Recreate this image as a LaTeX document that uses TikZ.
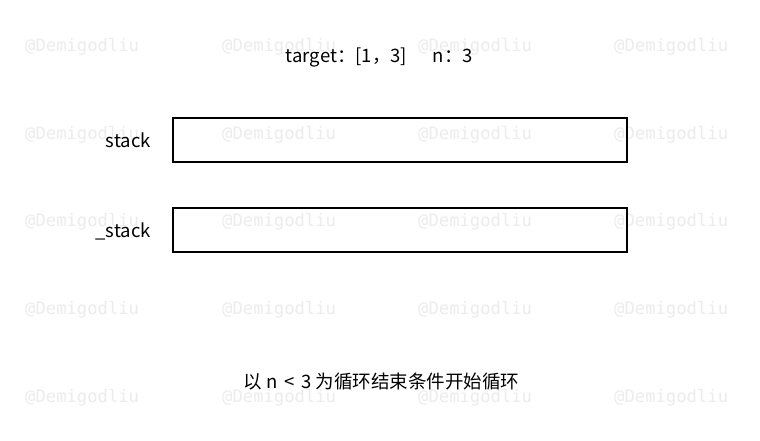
\documentclass[tikz,border=0pt]{standalone}
\usepackage{fontspec}
\setmainfont{Noto Sans CJK SC}
\newfontfamily\wmfont{DejaVu Sans Mono}
\definecolor{wmgray}{HTML}{ECECEC}
\begin{document}
\begin{tikzpicture}[x=1pt,y=-1pt,
  wm/.style={anchor=base west, inner sep=0pt, text=wmgray, font=\wmfont\fontsize{17.2}{19}\selectfont},
  lbl/.style={inner sep=0pt, font=\fontsize{18.5}{22}\selectfont},
  stackbox/.style={draw=black, line width=2pt, minimum width=454pt, minimum height=44pt, inner sep=0pt}]
\fill[white] (0,0) rectangle (760,440);
\useasboundingbox (0,0) rectangle (760,440);
\foreach \x in {25,222,418,614}
  \foreach \y in {51,139,226,314,402}
    \node[wm] (wm-\x-\y) at (\x,\y) {@Demigodliu};
\node[lbl, anchor=base] (title) at (379.5,62) {target：[1，3]\hspace{1.4em}n：3};
\node[stackbox] (stack) at (400,140) {};
\node[stackbox] (ustack) at (400,230) {};
\node[lbl, anchor=base east] (stacklbl) at (151,147) {stack};
\node[lbl, anchor=base east] (ustacklbl) at (151,237) {\_stack};
\node[lbl, anchor=base] (note) at (381.5,388) {以 n\hspace{0.35em}<\hspace{0.35em}3 为循环结束条件开始循环};
\end{tikzpicture}
\end{document}
